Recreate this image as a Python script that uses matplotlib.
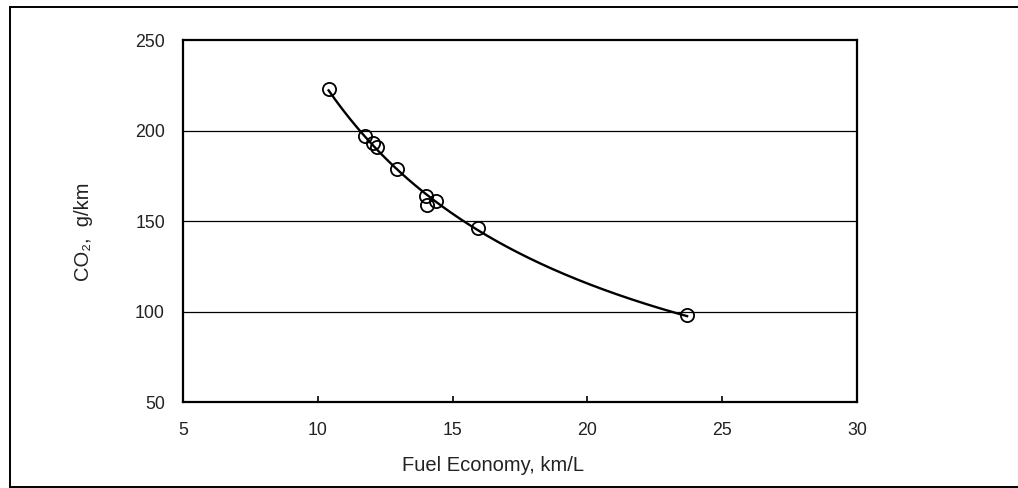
import numpy as np
import matplotlib.pyplot as plt
from matplotlib.lines import Line2D

plt.rcParams['font.family'] = ['Liberation Sans', 'DejaVu Sans']

# values
fuel_economy = [10.4, 11.75, 12.05, 12.2, 12.95, 14.0, 14.05, 14.4, 15.95, 23.7]
co2 = [223, 197, 193, 191, 179, 164, 159, 161, 146, 98]
x_ticks = [5, 10, 15, 20, 25, 30]
y_ticks = [50, 100, 150, 200, 250]
grid_levels = [100, 150, 200]

fig = plt.figure(figsize=(10.18, 4.88), dpi=100)
ax = fig.add_axes([0.1798, 0.176, 0.662, 0.742])

# power-law trend line through the points (CO2 ~ a * FE^b)
b, log_a = np.polyfit(np.log(fuel_economy), np.log(co2), 1)
fit_x = np.linspace(min(fuel_economy), max(fuel_economy), 200)
fit_y = np.exp(log_a) * fit_x ** b

for level in grid_levels:
    ax.axhline(level, color='black', linewidth=0.9, zorder=1)

ax.plot(fit_x, fit_y, color='black', linewidth=1.7, zorder=2)
ax.plot(fuel_economy, co2, linestyle='none', marker='o', markersize=9.5,
        markerfacecolor='none', markeredgecolor='black', markeredgewidth=1.3, zorder=3)

ax.set_xlim(5, 30)
ax.set_ylim(50, 250)
ax.set_xticks(x_ticks)
ax.set_yticks(y_ticks)
ax.tick_params(axis='x', direction='in', length=4, width=1.2, pad=14, labelsize=12.8,
               labelcolor='#222222')
ax.tick_params(axis='y', length=0, pad=13, labelsize=12.8, labelcolor='#222222')
for spine in ax.spines.values():
    spine.set_linewidth(1.6)

ax.set_xlabel("Fuel Economy, km/L", fontsize=14.5, color='#222222')
ax.xaxis.set_label_coords(0.46, -0.148)
ax.set_ylabel("CO\u2082,  g/km", fontsize=14.5, color='#222222')
ax.yaxis.set_label_coords(-0.133, 0.47)

# outer frame of the scanned figure (right side open)
W, H = 1018, 488
fx = lambda px: px / W
fy = lambda py: 1 - py / H
frame_kw = dict(color='black', linewidth=1.4, transform=fig.transFigure)
fig.add_artist(Line2D([fx(10), fx(10)], [fy(7), fy(487)], **frame_kw))
fig.add_artist(Line2D([fx(10), 1.0], [fy(7), fy(7)], **frame_kw))
fig.add_artist(Line2D([fx(10), 1.0], [fy(487), fy(487)], **frame_kw))

fig.savefig("out.png", dpi=100)
